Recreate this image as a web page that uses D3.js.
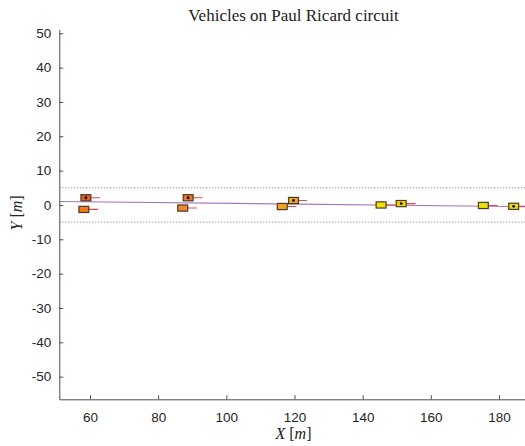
<!DOCTYPE html>
<html>
<head>
<meta charset="utf-8">
<script src="https://cdn.jsdelivr.net/npm/d3@7"></script>
<style>
html,body{margin:0;padding:0;background:#fff;}
svg{display:block;}
</style>
</head>
<body>
<svg id="chart" width="525" height="446"></svg>
<script>
// ---- data ----
const xTicks = [60, 80, 100, 120, 140, 160, 180];
const yTicks = [50, 40, 30, 20, 10, 0, -10, -20, -30, -40, -50];
const vehX = [58.8, 58.2, 88.8, 87.2, 119.7, 116.4, 145.4, 151.3, 175.4, 184.3];
const vehY = [2.1, -1.3, 2.1, -0.9, 1.3, -0.45, 0.0, 0.4, -0.15, -0.4];
const vehSpeed = [2.7, 2.7, 2.8, 2.7, 2.6, 2.7, 2.7, 2.8, 2.7, 2.8];
const vehEgo = [1, 0, 1, 0, 1, 0, 0, 1, 0, 1];
const laneBounds = [5, -5];
const pathX = [51, 188.5];
const pathY = [1.0, -0.5];

// ---- styles ----
const vehColors = ["#e2621c", "#ef7a1c", "#e9781e", "#f28c22", "#f0a81c", "#f3a21e", "#f4e200", "#f0d800", "#ecdf06", "#e6dc10"];
const vehLen = 2.9, vehWid = 1.8;

const svg = d3.select("#chart");
const x = d3.scaleLinear().domain([51, 188.5]).range([59.3, 528]);
const y = d3.scaleLinear().domain([-56.6, 51.1]).range([399.3, 29.5]);

const clipId = "plotclip";
svg.append("clipPath").attr("id", clipId).append("rect")
  .attr("x", 59.3).attr("y", 29.5).attr("width", 528 - 59.3).attr("height", 399.3 - 29.5);

const plot = svg.append("g").attr("clip-path", `url(#${clipId})`);

// lane bounds (dotted)
plot.selectAll("line.lane").data(laneBounds).enter().append("line")
  .attr("class", "lane")
  .attr("x1", x(51)).attr("x2", x(188.5))
  .attr("y1", d => y(d)).attr("y2", d => y(d))
  .attr("stroke", "#777").attr("stroke-width", 1)
  .attr("stroke-dasharray", "1,2");

// path
plot.append("path")
  .datum(pathX.map((d, i) => [d, pathY[i]]))
  .attr("d", d3.line().x(d => x(d[0])).y(d => y(d[1])))
  .attr("fill", "none").attr("stroke", "#a678b8").attr("stroke-width", 1.2);

const veh = vehX.map((d, i) => ({x: d, y: vehY[i], v: vehSpeed[i], ego: vehEgo[i], c: vehColors[i]}));

// speed lines
plot.selectAll("line.spd").data(veh).enter().append("line")
  .attr("class", "spd")
  .attr("x1", d => x(d.x)).attr("x2", d => x(d.x + vehLen / 2 + d.v))
  .attr("y1", d => y(d.y)).attr("y2", d => y(d.y))
  .attr("stroke", "#e34a44").attr("stroke-width", 1.1);

// vehicles
plot.selectAll("rect.veh").data(veh).enter().append("rect")
  .attr("class", "veh")
  .attr("x", d => x(d.x - vehLen / 2))
  .attr("y", d => y(d.y + vehWid / 2))
  .attr("width", d => x(d.x + vehLen / 2) - x(d.x - vehLen / 2))
  .attr("height", d => y(d.y - vehWid / 2) - y(d.y + vehWid / 2))
  .attr("fill", d => d.c)
  .attr("stroke", "#4a3a2e").attr("stroke-width", 1.2);

// ego markers
plot.selectAll("circle.ego").data(veh.filter(d => d.ego)).enter().append("circle")
  .attr("class", "ego")
  .attr("cx", d => x(d.x)).attr("cy", d => y(d.y))
  .attr("r", 1.4).attr("fill", "#111");

// axes
const fmt = d => String(d);
const xAxis = d3.axisBottom(x).tickValues(xTicks).tickFormat(fmt).tickSize(-4).tickPadding(13).tickSizeOuter(0);
const yAxis = d3.axisLeft(y).tickValues(yTicks).tickFormat(fmt).tickSize(-4).tickPadding(8).tickSizeOuter(0);

const gx = svg.append("g").attr("transform", `translate(0,${y(-56.6)})`).call(xAxis);
const gy = svg.append("g").attr("transform", `translate(${x(51)},0)`).call(yAxis);
[gx, gy].forEach(g => {
  g.select(".domain").attr("stroke", "#4d4d4d").attr("stroke-width", 1);
  g.selectAll(".tick line").attr("stroke", "#4d4d4d");
  g.selectAll(".tick text").attr("fill", "#262626")
    .style("font-family", "'Liberation Sans', Arial, sans-serif").style("font-size", "13.5px");
});

// title
svg.append("text").attr("x", 293.5).attr("y", 21).attr("text-anchor", "middle")
  .style("font-family", "'Liberation Serif', serif").style("font-size", "17px")
  .attr("fill", "#222").text("Vehicles on Paul Ricard circuit");

// x label
const xl = svg.append("text").attr("x", 293.5).attr("y", 439).attr("text-anchor", "middle")
  .style("font-family", "'Liberation Serif', serif").style("font-size", "16px").attr("fill", "#222");
xl.append("tspan").style("font-style", "italic").text("X");
xl.append("tspan").text(" [");
xl.append("tspan").style("font-style", "italic").text("m");
xl.append("tspan").text("]");

const yl = svg.append("text").attr("transform", `translate(22,${y(0) + 8}) rotate(-90)`).attr("text-anchor", "middle")
  .style("font-family", "'Liberation Serif', serif").style("font-size", "16px").attr("fill", "#222");
yl.append("tspan").style("font-style", "italic").text("Y");
yl.append("tspan").text(" [");
yl.append("tspan").style("font-style", "italic").text("m");
yl.append("tspan").text("]");
</script>
</body>
</html>
